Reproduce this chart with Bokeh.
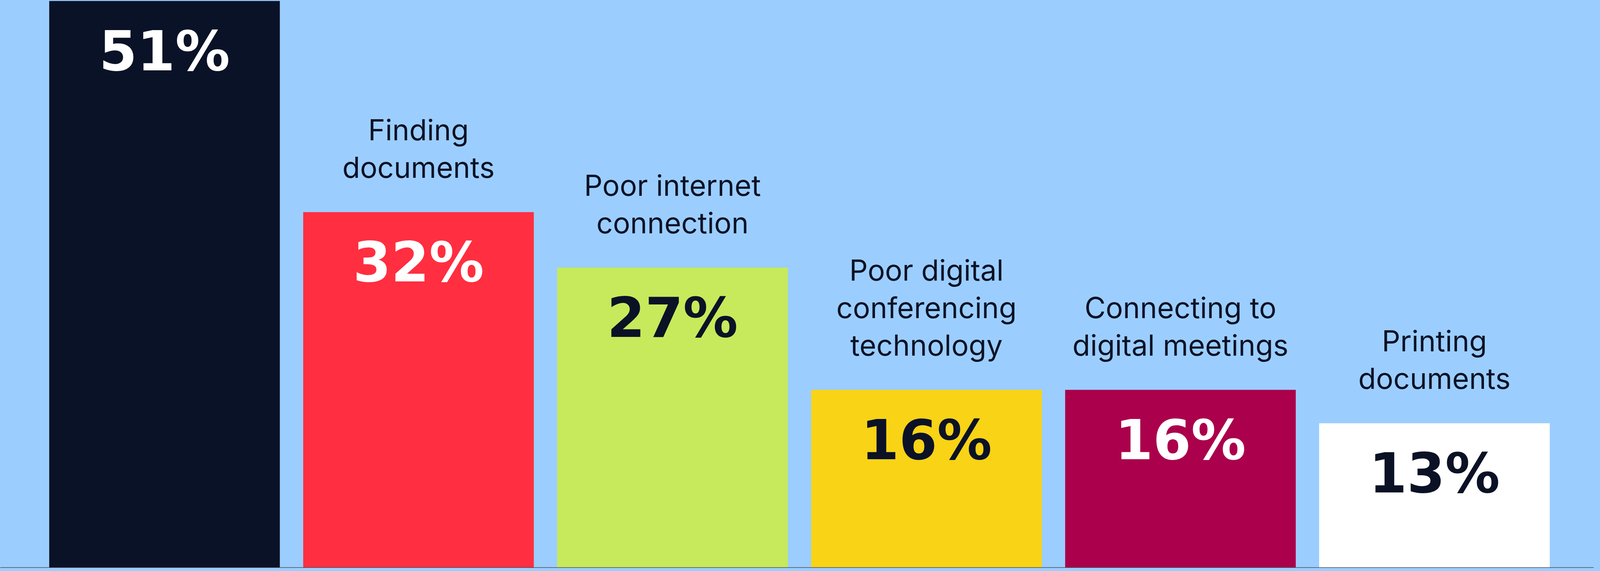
from bokeh.plotting import figure
from bokeh.models import Range1d, Span, ColumnDataSource
from bokeh.embed import file_html
from bokeh.resources import INLINE
from bokeh.core.properties import value

# ---- data ----
categories = ["", "Finding documents", "Poor internet connection",
              "Poor digital conferencing technology",
              "Connecting to digital meetings", "Printing documents"]
label_lines = [[], ["Finding", "documents"], ["Poor internet", "connection"],
               ["Poor digital", "conferencing", "technology"],
               ["Connecting to", "digital meetings"], ["Printing", "documents"]]
percentages = [51, 32, 27, 16, 16, 13]
pct_labels = ["51%", "32%", "27%", "16%", "16%", "13%"]
bar_colors = ["#0a1227", "#ff2e40", "#c6ea5b", "#f9d316", "#ab004b", "#ffffff"]
pct_text_colors = ["#ffffff", "#ffffff", "#0b1226", "#0b1226", "#ffffff", "#0b1226"]

BG = "#9bceff"
DARK = "#0b1226"

xs = list(range(len(categories)))
src = ColumnDataSource(dict(x=xs, top=percentages, color=bar_colors,
                            label=pct_labels, tcolor=pct_text_colors))

lx, ly, lt, loff = [], [], [], []
for i, lines in enumerate(label_lines):
    n = len(lines)
    for k, line in enumerate(lines):
        lx.append(i)
        ly.append(percentages[i])
        lt.append(line)
        loff.append(-(115 + (n - 1 - k) * 96))
lsrc = ColumnDataSource(dict(x=lx, y=ly, text=lt, off=loff))

p = figure(width=4080, height=1453,
           x_range=Range1d(-0.6470, 5.6280), y_range=Range1d(-0.035, 51.07),
           output_backend="svg", toolbar_location=None, min_border=0,
           background_fill_color=BG, border_fill_color=BG,
           outline_line_color=None)
p.axis.visible = False
p.grid.visible = False

p.vbar(x="x", top="top", bottom=0, width=0.908, fill_color="color",
       line_color=None, source=src)

p.add_layout(Span(location=0, dimension="width", line_color="#4a4f55",
                  line_width=2))

p.text(x="x", y="top", text="label", text_color="tcolor",
       text_font=value("DejaVu Sans"), text_font_style="bold",
       text_font_size="140px", text_align="center",
       text_baseline="alphabetic", y_offset=129, source=src)

p.text(x="x", y="y", text="text", y_offset="off", text_color=DARK,
       text_font=value("Inter"), text_font_size="74px",
       text_align="center", text_baseline="alphabetic", source=lsrc)

html = file_html(p, INLINE)
html = html.replace("<head>", "<head><style>html,body{background:%s;overflow:hidden;}</style>" % BG, 1)
open("out.html", "w").write(html)
